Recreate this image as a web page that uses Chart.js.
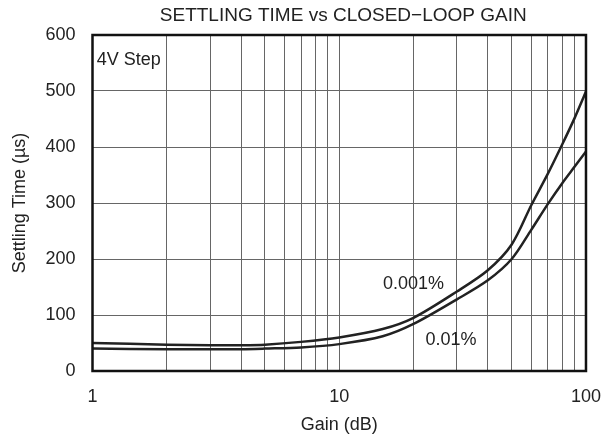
<!DOCTYPE html>
<html lang="en">
<head>
    <meta charset="UTF-8">
    <title>Settling Time vs Closed-Loop Gain</title>
    <script src="https://cdn.jsdelivr.net/npm/chart.js"></script>
    <style>
        html, body { margin: 0; padding: 0; background: #fff; }
        #wrap { width: 616px; height: 443px; }
    </style>
</head>
<body>
    <div id="wrap"><canvas id="settleChart" width="616" height="443"></canvas></div>

    <script>
        // values
        var gain = [1, 2, 3, 4, 5, 7, 10, 15, 20, 30, 40, 50, 60, 70, 80, 90, 100];
        var settle001 = [50, 47, 46, 46, 47, 52, 60, 75, 95, 142, 180, 226, 296, 352, 404, 452, 499];
        var settle01 = [40, 39, 39, 39, 40, 42, 48, 62, 84, 128, 162, 200, 252, 298, 335, 365, 392];

        var gridTicks = [1, 2, 3, 4, 5, 6, 7, 8, 9, 10, 20, 30, 40, 50, 60, 70, 80, 90, 100];
        var labeledTicks = [1, 10, 100];

        var chartTitle = 'SETTLING TIME vs CLOSED\u2212LOOP GAIN';

        // text notes in data coordinates
        var notes = [
            { text: '4V Step', x: 1.04, y: 555, align: 'left' },
            { text: '0.001%', x: 20, y: 156, align: 'center' },
            { text: '0.01%', x: 28.4, y: 54.5, align: 'center' }
        ];

        var FONT = '"Liberation Sans", Arial, Helvetica, sans-serif';
        var INK = '#222';

        // frame, title (centred over the plot area) and notes
        var framePlugin = {
            id: 'frame',
            afterDatasetsDraw: function(chart) {
                var ctx = chart.ctx, a = chart.chartArea;
                var xs = chart.scales.x, ys = chart.scales.y;
                ctx.save();
                ctx.strokeStyle = '#111';
                ctx.lineWidth = 2.5;
                ctx.strokeRect(a.left, a.top, a.right - a.left, a.bottom - a.top);

                ctx.fillStyle = INK;
                ctx.textBaseline = 'middle';
                ctx.textAlign = 'center';
                ctx.font = '19px ' + FONT;
                ctx.fillText(chartTitle, (a.left + a.right) / 2 + 4, 16);

                ctx.font = '18px ' + FONT;
                notes.forEach(function(n) {
                    ctx.textAlign = n.align;
                    ctx.fillText(n.text, xs.getPixelForValue(n.x), ys.getPixelForValue(n.y));
                });
                ctx.restore();
            }
        };

        var ctx = document.getElementById('settleChart').getContext('2d');
        var settleChart = new Chart(ctx, {
            type: 'line',
            data: {
                datasets: [{
                    label: '0.001%',
                    data: gain.map(function(g, i) { return { x: g, y: settle001[i] }; }),
                    borderColor: INK,
                    borderWidth: 2.5,
                    pointRadius: 0,
                    tension: 0.3,
                    fill: false
                }, {
                    label: '0.01%',
                    data: gain.map(function(g, i) { return { x: g, y: settle01[i] }; }),
                    borderColor: INK,
                    borderWidth: 2.5,
                    pointRadius: 0,
                    tension: 0.3,
                    fill: false
                }]
            },
            options: {
                responsive: false,
                animation: false,
                events: [],
                layout: { padding: { left: 0, right: 27, top: 35, bottom: 0 } },
                plugins: {
                    legend: { display: false },
                    tooltip: { enabled: false },
                    title: { display: false }
                },
                scales: {
                    x: {
                        type: 'logarithmic',
                        min: 1,
                        max: 100,
                        afterBuildTicks: function(scale) {
                            scale.ticks = gridTicks.map(function(v) { return { value: v }; });
                        },
                        afterFit: function(scale) { scale.height = 72; },
                        ticks: {
                            autoSkip: false,
                            maxRotation: 0,
                            padding: 15,
                            color: INK,
                            font: { family: FONT, size: 18 },
                            callback: function(value) {
                                return labeledTicks.indexOf(value) >= 0 ? String(value) : '';
                            }
                        },
                        grid: { color: '#666', lineWidth: 1, drawTicks: false },
                        border: { display: false },
                        title: {
                            display: true,
                            text: 'Gain (dB)',
                            color: INK,
                            font: { family: FONT, size: 18 },
                            padding: { top: 0, bottom: 7 }
                        }
                    },
                    y: {
                        min: 0,
                        max: 600,
                        afterFit: function(scale) { scale.width = 92.5; },
                        ticks: {
                            stepSize: 100,
                            padding: 17,
                            color: INK,
                            font: { family: FONT, size: 18 }
                        },
                        grid: { color: '#666', lineWidth: 1, drawTicks: false },
                        border: { display: false },
                        title: {
                            display: true,
                            text: 'Settling Time (\u00b5s)',
                            color: INK,
                            font: { family: FONT, size: 18 },
                            padding: { top: 9, bottom: 0 }
                        }
                    }
                }
            },
            plugins: [framePlugin]
        });
    </script>
</body>
</html>
